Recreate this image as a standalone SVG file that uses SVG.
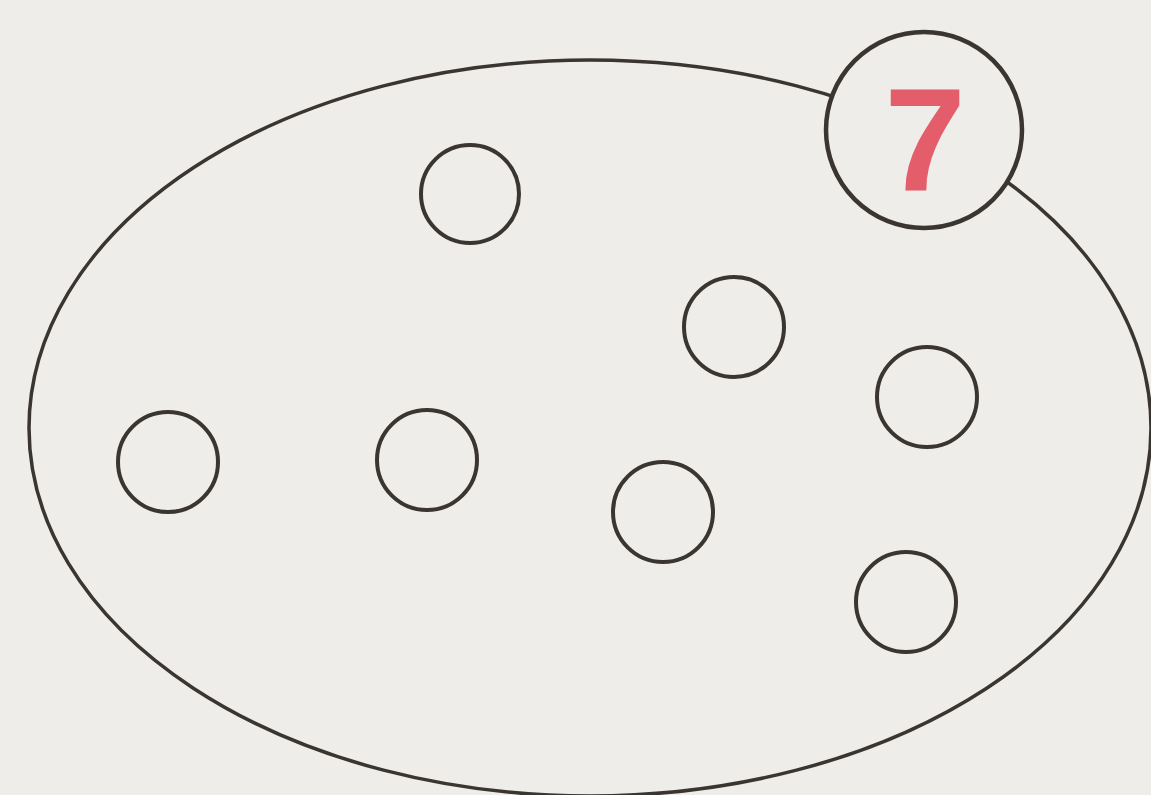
<svg xmlns="http://www.w3.org/2000/svg" width="1151" height="795" viewBox="0 0 1151 795">
  <style>
    .line { fill: none; stroke: #3a3531; }
    .dot { fill: none; stroke: #3a3531; stroke-width: 4; }
    .num { font-family: "Liberation Sans", Arial, sans-serif; font-weight: bold; fill: #e45d6b; }
  </style>
  <rect width="1151" height="795" fill="#eeede9"/>
  <g id="set">
    <ellipse class="line" cx="590" cy="428" rx="561" ry="368" stroke-width="3.5"/>
  </g>
  <g id="badge">
    <circle cx="924" cy="130" r="98" fill="#eeede9" stroke="#3a3531" stroke-width="4.5"/>
    <text class="num" x="925" y="190" font-size="146" text-anchor="middle">7</text>
  </g>
  <g id="dot1"><circle class="dot" cx="470" cy="194" r="49"/></g>
  <g id="dot2"><circle class="dot" cx="734" cy="327" r="50"/></g>
  <g id="dot3"><circle class="dot" cx="927" cy="397" r="50"/></g>
  <g id="dot4"><circle class="dot" cx="168" cy="462" r="50"/></g>
  <g id="dot5"><circle class="dot" cx="427" cy="460" r="50"/></g>
  <g id="dot6"><circle class="dot" cx="663" cy="512" r="50"/></g>
  <g id="dot7"><circle class="dot" cx="906" cy="602" r="50"/></g>
  <g id="connectors"></g>
</svg>
